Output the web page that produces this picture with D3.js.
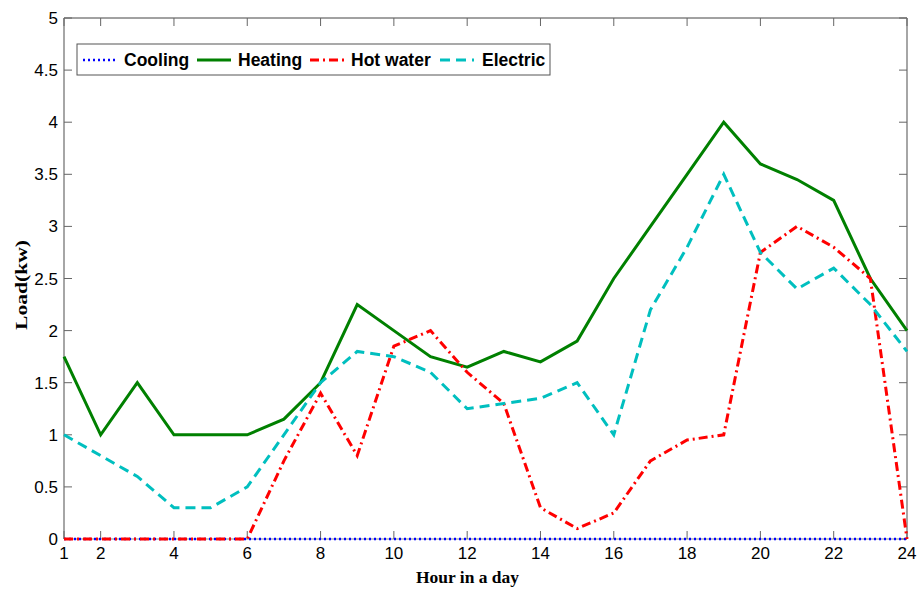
<!DOCTYPE html>
<html>
<head>
<meta charset="utf-8">
<script src="https://cdn.jsdelivr.net/npm/d3@7"></script>
<style>
  body { margin: 0; background: #fff; }
  svg { display: block; }
</style>
</head>
<body>
<div id="chart"></div>
<script>
const hours = d3.range(1, 25);
const xTicks = [1, 2, 4, 6, 8, 10, 12, 14, 16, 18, 20, 22, 24];
const yTicks = [0, 0.5, 1, 1.5, 2, 2.5, 3, 3.5, 4, 4.5, 5];

const cooling = [0, 0, 0, 0, 0, 0, 0, 0, 0, 0, 0, 0, 0, 0, 0, 0, 0, 0, 0, 0, 0, 0, 0, 0];
const heating = [1.75, 1.0, 1.5, 1.0, 1.0, 1.0, 1.15, 1.5, 2.25, 2.0, 1.75, 1.65, 1.8, 1.7, 1.9, 2.5, 3.0, 3.5, 4.0, 3.6, 3.45, 3.25, 2.5, 2.0];
const hotWater = [0, 0, 0, 0, 0, 0, 0.75, 1.4, 0.8, 1.85, 2.0, 1.6, 1.3, 0.3, 0.1, 0.25, 0.75, 0.95, 1.0, 2.75, 3.0, 2.8, 2.5, 0];
const electric = [1.0, 0.8, 0.6, 0.3, 0.3, 0.5, 1.0, 1.5, 1.8, 1.75, 1.6, 1.25, 1.3, 1.35, 1.5, 1.0, 2.2, 2.8, 3.5, 2.75, 2.4, 2.6, 2.25, 1.8];

const width = 919;
const height = 591;
const margin = {left: 64, right: 12, top: 18, bottom: 52};

const svg = d3.select("#chart")
	.append("svg")
	.attr("width", width)
	.attr("height", height);

const x = d3.scaleLinear()
	.domain([1, 24])
	.range([margin.left, width - margin.right]);

const y = d3.scaleLinear()
	.domain([0, 5])
	.range([height - margin.bottom, margin.top]);

const x0 = x.range()[0], x1 = x.range()[1];
const y0 = y.range()[0], y1 = y.range()[1];

// frame + ticks (matlab style, ticks inward on all sides)
const frame = svg.append("g");
frame.append("line").attr("x1", x0).attr("x2", x1).attr("y1", y1).attr("y2", y1).attr("stroke", "#444");
frame.append("line").attr("x1", x0).attr("x2", x1).attr("y1", y0).attr("y2", y0).attr("stroke", "#888");
frame.append("line").attr("x1", x0).attr("x2", x0).attr("y1", y0).attr("y2", y1).attr("stroke", "#888").attr("stroke-width", 1.5);
frame.append("line").attr("x1", x1).attr("x2", x1).attr("y1", y0).attr("y2", y1).attr("stroke", "#888").attr("stroke-width", 1.5);

frame.selectAll(".xtb").data(xTicks).enter().append("line")
	.attr("x1", d => x(d)).attr("x2", d => x(d))
	.attr("y1", y0).attr("y2", y0 - 8)
	.attr("stroke", "#666");
frame.selectAll(".xtt").data(xTicks).enter().append("line")
	.attr("x1", d => x(d)).attr("x2", d => x(d))
	.attr("y1", y1).attr("y2", y1 + 8)
	.attr("stroke", "#666");
frame.selectAll(".ytl").data(yTicks).enter().append("line")
	.attr("x1", x0).attr("x2", x0 + 8)
	.attr("y1", d => y(d)).attr("y2", d => y(d))
	.attr("stroke", "#666");
frame.selectAll(".ytr").data(yTicks).enter().append("line")
	.attr("x1", x1).attr("x2", x1 - 8)
	.attr("y1", d => y(d)).attr("y2", d => y(d))
	.attr("stroke", "#666");

svg.selectAll(".xl").data(xTicks).enter().append("text")
	.attr("x", d => x(d))
	.attr("y", y0 + 20)
	.attr("text-anchor", "middle")
	.style("font-family", "Liberation Sans, Arial, sans-serif")
	.style("font-size", "17px")
	.text(d => d);

svg.selectAll(".yl").data(yTicks).enter().append("text")
	.attr("x", x0 - 6)
	.attr("y", d => y(d) + 6)
	.attr("text-anchor", "end")
	.style("font-family", "Liberation Sans, Arial, sans-serif")
	.style("font-size", "17px")
	.text(d => d);

// axis titles look stretched in the original, so force their length
svg.append("text")
	.attr("x", 416)
	.attr("y", 583)
	.attr("textLength", 103)
	.attr("lengthAdjust", "spacingAndGlyphs")
	.style("font-family", "Liberation Serif, Times New Roman, serif")
	.style("font-weight", "bold")
	.style("font-size", "17px")
	.text("Hour in a day");

svg.append("text")
	.attr("transform", "translate(27,330) rotate(-90)")
	.attr("textLength", 90)
	.attr("lengthAdjust", "spacingAndGlyphs")
	.style("font-family", "Liberation Serif, Times New Roman, serif")
	.style("font-weight", "bold")
	.style("font-size", "17px")
	.text("Load(kw)");

const series = [
	{name: "Cooling", values: cooling, color: "#0000ff", width: 2.5, dash: "2,3"},
	{name: "Heating", values: heating, color: "#008000", width: 3, dash: null},
	{name: "Hot water", values: hotWater, color: "#ff0000", width: 3, dash: "9,4,2,4"},
	{name: "Electric", values: electric, color: "#00bfbf", width: 3, dash: "10,6"}
];

const line = d3.line()
	.x((d, i) => x(hours[i]))
	.y(d => y(d));

svg.selectAll(".series").data(series).enter().append("path")
	.attr("d", d => line(d.values))
	.attr("fill", "none")
	.attr("stroke", d => d.color)
	.attr("stroke-width", d => d.width)
	.attr("stroke-dasharray", d => d.dash)
	.attr("stroke-linejoin", "miter");

// legend
const legend = svg.append("g");
legend.append("rect")
	.attr("x", 77).attr("y", 44)
	.attr("width", 473).attr("height", 31)
	.attr("fill", "#fff")
	.attr("stroke", "#555");

const legendX = [83, 197, 310, 440];
const legendItem = legend.selectAll(".li").data(series).enter().append("g")
	.attr("transform", (d, i) => "translate(" + legendX[i] + ",60)");
legendItem.append("line")
	.attr("x1", 0).attr("x2", 34)
	.attr("stroke", d => d.color)
	.attr("stroke-width", d => d.width)
	.attr("stroke-dasharray", d => d.dash);
legendItem.append("text")
	.attr("x", (d, i) => i === 3 ? 42 : 41)
	.attr("y", 6)
	.style("font-family", "Liberation Sans, Arial, sans-serif")
	.style("font-weight", "bold")
	.style("font-size", "17.5px")
	.text(d => d.name);
</script>
</body>
</html>
